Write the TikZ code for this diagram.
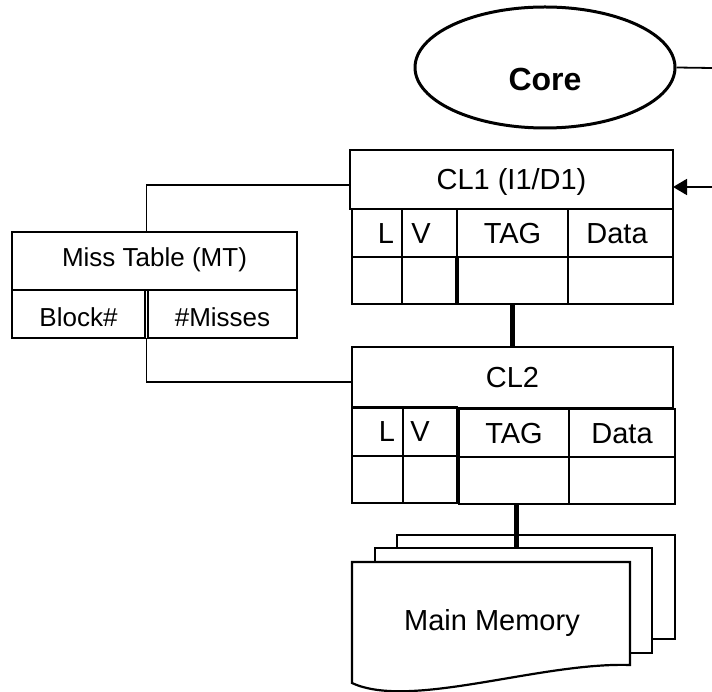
\documentclass[tikz,border=0pt]{standalone}
\usepackage{fontspec}
\setmainfont{Liberation Sans}
\usetikzlibrary{arrows.meta,shapes.geometric}
\begin{document}
\begin{tikzpicture}[x=1pt,y=-1pt,
  cell/.style={draw, line width=2.4pt, rectangle, inner sep=0pt, outer sep=0pt,
    font=\fontsize{29}{34}\selectfont, text height=20.8pt, text depth=0pt},
  mtcell/.style={cell, font=\fontsize{26}{31}\selectfont},
  conn/.style={line width=1.8pt},
  bus/.style={line width=5pt},
  page/.style={draw, line width=2.2pt, fill=white, line join=miter},
]
\useasboundingbox (0,0) rectangle (712,692);

% Core
\node[draw, ellipse, line width=3pt, minimum width=260pt, minimum height=121pt,
  inner sep=0pt, font=\fontsize{32}{38}\selectfont\bfseries,
  text height=46pt, text depth=0pt] (core) at (545,67.5) {Core};
\coordinate (coreR) at (712,68);
\coordinate (inR) at (712,187);

% CL1
\node[cell, minimum width=323pt, minimum height=59pt] (cl1) at (511.5,179.5) {CL1 (I1/D1)};
\node[cell, minimum width=50pt, minimum height=48pt] (cl1L) at (377,233) {\hspace*{18pt}L};
\node[cell, minimum width=55pt, minimum height=48pt] (cl1V) at (429.5,233) {V\hspace*{17pt}};
\node[cell, minimum width=111pt, minimum height=48pt] (cl1T) at (512.5,233) {TAG};
\node[cell, minimum width=105pt, minimum height=48pt] (cl1D) at (620.5,233) {Data\hspace*{7pt}};
\node[cell, minimum width=50pt, minimum height=47pt] (cl1Lb) at (377,280.5) {};
\node[cell, minimum width=55pt, minimum height=47pt] (cl1Vb) at (429.5,280.5) {};
\node[cell, minimum width=111pt, minimum height=47pt] (cl1Tb) at (512.5,280.5) {};
\node[cell, minimum width=105pt, minimum height=47pt] (cl1Db) at (620.5,280.5) {};
\draw[line width=3.6pt] (cl1Vb.north east) -- (cl1Vb.south east);

% CL2
\node[cell, minimum width=321pt, minimum height=61pt] (cl2) at (512.5,377.5) {CL2};
\node[cell, minimum width=51pt, minimum height=49pt] (cl2L) at (377.5,431.5) {\hspace*{19pt}L};
\node[cell, minimum width=54pt, minimum height=49pt] (cl2V) at (430,431.5) {V\hspace*{20pt}};
\node[cell, minimum width=110pt, minimum height=48pt] (cl2T) at (514,433) {TAG};
\node[cell, minimum width=106pt, minimum height=48pt] (cl2D) at (622,433) {Data};
\node[cell, minimum width=51pt, minimum height=47pt] (cl2Lb) at (377.5,479.5) {};
\node[cell, minimum width=54pt, minimum height=47pt] (cl2Vb) at (430,479.5) {};
\node[cell, minimum width=110pt, minimum height=47pt] (cl2Tb) at (514,480.5) {};
\node[cell, minimum width=106pt, minimum height=47pt] (cl2Db) at (622,480.5) {};

% Miss table
\node[mtcell, line width=2.8pt, minimum width=285pt, minimum height=58pt, text height=11.6pt] (mt) at (154.5,261) {Miss Table (MT)};
\node[mtcell, line width=2.8pt, minimum width=133pt, minimum height=48pt, text height=25.6pt] (mtB) at (78.5,314) {Block\#};
\node[mtcell, line width=2.8pt, minimum width=149pt, minimum height=48pt, text height=25.6pt] (mtM) at (222.5,314) {\#Misses};

% Main memory
\draw[page] (397,535) rectangle (675,639);
\draw[page] (375,548) rectangle (652,653);
\draw[page] (352,562) -- (630,562) -- (630,665)
  .. controls (540,662) and (410,710) .. (352,683) -- cycle;
\node[font=\fontsize{29}{34}\selectfont, text height=20.8pt, text depth=0pt, inner sep=0pt] (mem) at (492,620) {Main Memory};
\coordinate (memtop) at (516,548);

% connectors
\draw[conn] (core.east) -- (coreR);
\draw[conn, -{Triangle[length=14pt,width=16pt]}] (inR) -- (inR -| cl1.east);
\draw[conn] ([xshift=1.5pt]mt.north -| mtB.east) |- ([yshift=-5.5pt]cl1.west);
\draw[conn] ([xshift=1.5pt]mtB.south east) |- ([yshift=-4.5pt]cl2.west);
\draw[bus] (cl1Tb.south) -- (cl1Tb.south |- cl2.north);
\draw[bus] ([xshift=2pt]cl2Tb.south) -- ([xshift=2pt]cl2Tb.south |- memtop);
\end{tikzpicture}
\end{document}
